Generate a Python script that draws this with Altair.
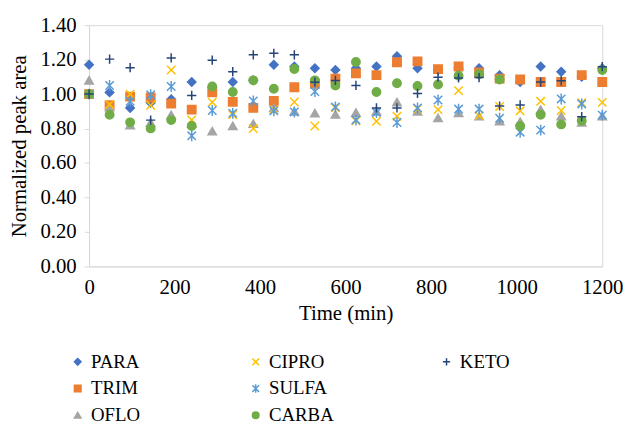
import altair as alt
import pandas as pd

times = [0, 48, 96, 144, 192, 240, 288, 336, 384, 432, 480, 528, 576,
         624, 672, 720, 768, 816, 864, 912, 960, 1008, 1056, 1104, 1152, 1200]

series_names = ["PARA", "TRIM", "OFLO", "CIPRO", "SULFA", "CARBA", "KETO"]

para = [1.17, 1.01, 0.92, 0.95, 0.97, 1.07, 1.04, 1.07, 1.08, 1.17, 1.16, 1.15, 1.14,
        1.15, 1.16, 1.22, 1.15, 1.14, 1.15, 1.15, 1.11, 1.07, 1.16, 1.13, 1.10, 1.15]
trim = [1.00, 0.935, 0.985, 0.98, 0.945, 0.91, 1.01, 0.955, 0.92, 0.96, 1.04, 1.06, 1.09,
        1.12, 1.11, 1.185, 1.19, 1.145, 1.16, 1.125, 1.09, 1.085, 1.07, 1.07, 1.11, 1.07]
oflo = [1.08, 0.925, 0.82, 0.835, 0.88, 0.83, 0.785, 0.815, 0.828, 0.92, 0.90, 0.89, 0.882,
        0.893, 0.90, 0.954, 0.90, 0.862, 0.891, 0.872, 0.843, 0.84, 0.91, 0.872, 0.836, 0.872]
cipro = [1.00, 0.94, 1.00, 0.935, 1.14, 0.85, 0.953, 0.88, 0.80, 0.91, 0.954, 0.815, 0.92,
         0.845, 0.842, 0.872, 0.915, 0.91, 1.02, 0.875, 0.928, 0.903, 0.958, 0.905, 0.95, 0.952]
sulfa = [1.00, 1.05, 0.958, 0.996, 1.044, 0.758, 0.905, 0.889, 0.96, 0.903, 0.896, 1.015, 0.926,
         0.85, 0.893, 0.835, 0.92, 0.966, 0.913, 0.913, 0.86, 0.779, 0.791, 0.972, 0.943, 0.878]
carba = [1.00, 0.88, 0.836, 0.801, 0.849, 0.815, 1.044, 1.012, 1.08, 1.031, 1.146, 1.08, 1.05,
         1.186, 1.012, 1.063, 1.047, 1.056, 1.107, 1.115, 1.085, 0.815, 0.88, 0.824, 0.846, 1.14]
keto = [1.00, 1.203, 1.153, 0.849, 1.21, 0.992, 1.197, 1.13, 1.228, 1.237, 1.228, 1.069, 1.079,
        1.05, 0.92, 0.92, 1.004, 1.098, 1.094, 1.096, 0.931, 0.937, 1.07, 1.077, 0.869, 1.159]

values = {"PARA": para, "TRIM": trim, "OFLO": oflo, "CIPRO": cipro,
          "SULFA": sulfa, "CARBA": carba, "KETO": keto}

colors = {"PARA": "#4472C4", "TRIM": "#ED7D31", "OFLO": "#A5A5A5", "CIPRO": "#FFC000",
          "SULFA": "#5B9BD5", "CARBA": "#70AD47", "KETO": "#264478"}
shapes = {"PARA": "diamond", "TRIM": "square", "OFLO": "triangle-up",
          "CIPRO": "M-1,-1L1,1M-1,1L1,-1",
          "SULFA": "M-1,-1L1,1M-1,1L1,-1M0,-1.3L0,1.3",
          "CARBA": "circle",
          "KETO": "M-1.1,0L1.1,0M0,-1.1L0,1.1"}

y_ticks = [0, 0.2, 0.4, 0.6, 0.8, 1.0, 1.2, 1.4]
x_ticks = [0, 200, 400, 600, 800, 1000, 1200]

rows = []
for s in series_names:
    for t, v in zip(times, values[s]):
        rows.append({"time": t, "value": v, "series": s})
df = pd.DataFrame(rows)

groups = [["PARA", "TRIM", "OFLO"], ["CIPRO", "SULFA", "CARBA"], ["KETO"]]
legend_xs = [-21, 159, 352]

FONT = "Liberation Serif"

x_enc = alt.X("time:Q", scale=alt.Scale(domain=[0, 1200], nice=False),
              axis=alt.Axis(values=x_ticks, format="d", title="Time (min)", grid=False,
                            ticks=False, labelFlush=False, labelPadding=10, titlePadding=6))
y_enc = alt.Y("value:Q", scale=alt.Scale(domain=[0, 1.4], nice=False),
              axis=alt.Axis(values=y_ticks, format=".2f", title="Normalized peak area",
                            grid=False, tickSize=5, labelPadding=8, titlePadding=11))

layers = []
for names, lx in zip(groups, legend_xs):
    leg = alt.Legend(title=None, orient="none", legendX=lx, legendY=331,
                     symbolSize=45, symbolStrokeWidth=1.5, labelFontSize=19,
                     labelFont=FONT, labelColor="#000000", labelOffset=4,
                     rowPadding=7, padding=0, direction="vertical")
    csc = alt.Scale(domain=names, range=[colors[n] for n in names])
    ssc = alt.Scale(domain=names, range=[shapes[n] for n in names])
    layer = alt.Chart(df).transform_filter(
        alt.FieldOneOfPredicate(field="series", oneOf=names)
    ).mark_point(size=72, strokeWidth=1.5, opacity=1, fillOpacity=1).encode(
        x=x_enc,
        y=y_enc,
        fill=alt.Fill("series:N", scale=csc, legend=leg, sort=names),
        stroke=alt.Stroke("series:N", scale=csc, legend=leg, sort=names),
        shape=alt.Shape("series:N", scale=ssc, legend=leg, sort=names),
    )
    layers.append(layer)

chart = alt.layer(*layers).resolve_scale(
    fill="independent", stroke="independent", shape="independent"
).resolve_legend(
    fill="independent", stroke="independent", shape="independent"
).properties(
    width=519, height=244,
    padding={"left": 82, "top": 15, "right": 22, "bottom": 157},
    autosize=alt.AutoSizeParams(type="none"),
).configure_view(
    stroke="#D9D9D9", strokeWidth=1
).configure_axis(
    labelFont=FONT, titleFont=FONT, labelFontSize=21, titleFontSize=21,
    labelColor="#000000", titleColor="#000000", titleFontWeight="normal",
    domainColor="#D9D9D9", tickColor="#D9D9D9"
)

chart.save("out.html", embed_options={"renderer": "svg", "actions": False})
